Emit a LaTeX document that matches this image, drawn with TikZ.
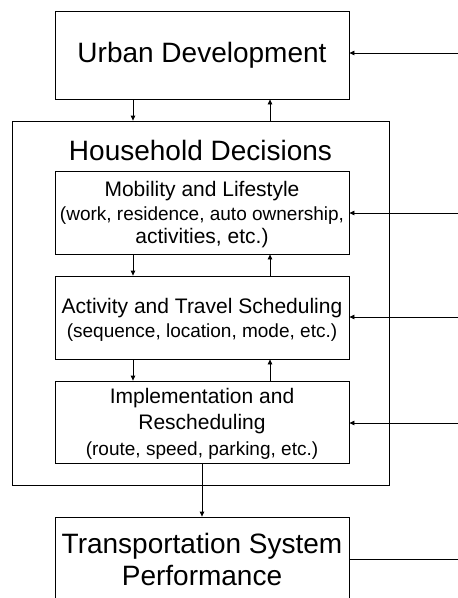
\documentclass[tikz,border=0pt]{standalone}
\usepackage{fontspec}
\setmainfont{Liberation Sans}
\usetikzlibrary{arrows.meta}
\begin{document}
\begin{tikzpicture}[x=1pt,y=-1pt,
  box/.style={draw, line width=0.8pt, inner sep=0pt, align=center, minimum width=294pt},
  smallbox/.style={box, text depth=-1pt},
  bigfont/.style={font=\fontsize{28}{32}\selectfont},
  arr/.style={line width=0.8pt, -{Triangle[length=5pt,width=4.5pt]}},
  ln/.style={line width=0.8pt}]
\useasboundingbox (0,0) rectangle (458,598);
\clip (0,0) rectangle (458,598);
\fill[white] (0,0) rectangle (458,598);

% nodes
\node[box, bigfont, minimum height=88pt] (ud) at (202,55) {Urban Development};
\node[draw, line width=0.8pt, inner sep=0pt, minimum width=377pt, minimum height=364pt] (hd) at (200.5,303) {};
\node[bigfont, inner sep=0pt] (hdt) at (200.5,150) {Household Decisions};
\node[smallbox, minimum height=83pt, font=\fontsize{21}{23.5}\selectfont] (mob) at (202,212.5)
  {Mobility and Lifestyle\\ \fontsize{19}{23.5}\selectfont(work, residence, auto ownership,\\ activities, etc.)};
\node[smallbox, minimum height=83pt, font=\fontsize{21}{24}\selectfont] (act) at (202,317.5)
  {Activity and Travel Scheduling\\ \fontsize{19}{24}\selectfont(sequence, location, mode, etc.)};
\node[smallbox, minimum height=82pt, font=\fontsize{21}{26}\selectfont] (imp) at (202,422)
  {Implementation and\\ Rescheduling\\ \fontsize{19}{26}\selectfont(route, speed, parking, etc.)};
\node[box, bigfont, minimum height=84pt] (tsp) at (202,559)
  {Transportation System\\ Performance};

% column coordinates
\coordinate (xl) at (133,0);
\coordinate (xr) at (270,0);
\coordinate (r1) at (462,53);
\coordinate (r2) at (462,213);
\coordinate (r3) at (462,317);
\coordinate (r4) at (462,423);
\coordinate (r5) at (462,559);

% vertical connectors
\draw[arr] (ud.south -| xl) -- (hd.north -| xl);
\draw[arr] (hd.north -| xr) -- (ud.south -| xr);
\draw[arr] (mob.south -| xl) -- (act.north -| xl);
\draw[arr] (act.north -| xr) -- (mob.south -| xr);
\draw[arr] (act.south -| xl) -- (imp.north -| xl);
\draw[arr] (imp.north -| xr) -- (act.south -| xr);
\draw[arr] (imp.south) -- (tsp.north);

% right-side connectors
\draw[arr] (r1) -- (ud.east |- r1);
\draw[arr] (r2) -- (mob.east |- r2);
\draw[arr] (r3) -- (act.east |- r3);
\draw[arr] (r4) -- (imp.east |- r4);
\draw[ln] (tsp.east |- r5) -- (r5);
\end{tikzpicture}
\end{document}
